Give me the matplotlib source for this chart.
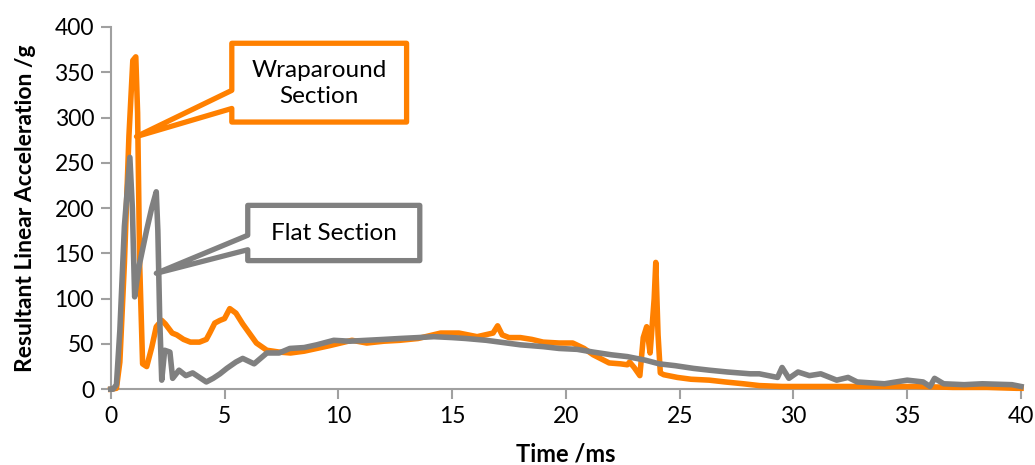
import matplotlib
matplotlib.use('Agg')
import matplotlib.pyplot as plt
from matplotlib.patches import Polygon

plt.rcParams['font.family'] = ['Lato', 'DejaVu Sans']

# Wraparound section (orange)
t_wrap = [0, 0.25, 0.4, 0.6, 0.8, 0.97, 1.1, 1.18, 1.27, 1.4, 1.58, 1.8, 2.0, 2.24, 2.4, 2.7, 2.9, 3.2,
          3.5, 3.9, 4.2, 4.35, 4.57, 4.8, 5.0, 5.23, 5.5, 5.8, 6.0, 6.4, 6.86, 7.4, 7.9, 8.5, 9.05, 9.6,
          10.1, 10.6, 11.25, 12.0, 12.7, 13.5, 14.5, 15.3, 16.1, 16.8, 17.0, 17.2, 17.5, 18.0, 18.5, 19.0,
          19.7, 20.3, 20.8, 21.2, 21.9, 22.4, 22.7, 22.8, 23.0, 23.25, 23.4, 23.55, 23.7, 23.8, 23.88,
          23.95, 24.05, 24.15, 24.3, 24.9, 25.5, 26.3, 27.0, 27.8, 28.5, 29.5, 30.5, 32, 33.5, 35.4, 37,
          38.5, 39.8, 40]
v_wrap = [0, 1, 30, 139, 280, 363, 367, 305, 139, 28, 25, 46, 69, 76, 72, 62, 60, 55,
          52, 52, 55, 62, 73, 76, 78, 89, 84, 72, 65, 51, 43, 41, 40, 42, 45, 48,
          51, 54, 51, 53, 54, 56, 62, 62, 58, 62, 70, 60, 57, 57, 55, 52,
          51, 51, 45, 38, 29, 28, 27, 30, 24, 15, 57, 69, 40, 73, 100,
          140, 60, 18, 16, 13, 11, 10, 8, 6, 4, 3, 3, 3, 3, 3, 2,
          2, 1, 1]

# Flat section (gray)
t_flat = [0, 0.1, 0.25, 0.4, 0.6, 0.84, 0.95, 1.05, 1.15, 1.27, 1.58, 1.8, 2.0, 2.07, 2.15, 2.24, 2.37,
          2.6, 2.72, 3.0, 3.3, 3.6, 3.9, 4.2, 4.5, 4.8, 5.1, 5.5, 5.8, 6.3, 6.86, 7.4, 7.87, 8.5, 9.05,
          9.8, 10.5, 11.25, 12, 12.7, 13.5, 14.2, 15, 15.6, 16.5, 17.1, 18, 19, 19.7, 20.5, 21.2, 22,
          22.7, 23.5, 24.1, 24.8, 25.6, 26.3, 27.1, 28.1, 28.5, 29.3, 29.5, 29.8, 30.2, 30.7, 31.2, 31.9,
          32.4, 32.8, 34, 35, 35.7, 36, 36.2, 36.6, 37.5, 38.3, 39.6, 40]
v_flat = [0, 0, 5, 65, 180, 256, 200, 102, 120, 139, 176, 200, 218, 175, 80, 10, 43,
          41, 12, 21, 15, 18, 13, 8, 12, 17, 23, 30, 34, 28, 40, 40, 45, 46, 49,
          54, 53, 54, 55, 56, 57, 58, 57, 56, 54, 52, 49, 47, 45, 44, 41, 38,
          36, 32, 28, 26, 23, 21, 19, 17, 17, 13, 24, 12, 19, 15, 17, 10,
          13, 8, 6, 10, 8, 3, 12, 6, 5, 6, 5, 3]

orange = '#FF8000'
grey = '#808080'
axcol = '#A0A0A0'

fig = plt.figure(figsize=(10.35, 4.65), dpi=100)
ax = fig.add_axes([0.107, 0.163, 0.8795, 0.779])

ax.plot(t_wrap, v_wrap, color=orange, lw=4, solid_joinstyle='round', clip_on=False, zorder=3)
ax.plot(t_flat, v_flat, color=grey, lw=4, solid_joinstyle='round', clip_on=False, zorder=4)

ax.set_xlim(0, 40)
ax.set_ylim(0, 400)
ax.set_xticks(range(0, 41, 5))
ax.set_yticks(range(0, 401, 50))

for s in ['top', 'right']:
    ax.spines[s].set_visible(False)
for s in ['left', 'bottom']:
    ax.spines[s].set_color(axcol)
    ax.spines[s].set_linewidth(1.5)
ax.tick_params(axis='both', color=axcol, width=1.5, length=7, labelsize=16.5, pad=5)

ax.set_xlabel('Time /ms', fontsize=17, fontweight='bold', labelpad=11)
ax.set_ylabel('Resultant Linear Acceleration /g', fontsize=16.5, fontweight='bold', labelpad=13)

# callouts
wrap_box = [(1.13, 279), (5.32, 310), (5.32, 295), (13.0, 295), (13.0, 382), (5.32, 382), (5.32, 330)]
flat_box = [(2.0, 128), (6.02, 154), (6.02, 142), (13.58, 142), (13.58, 203), (6.02, 203), (6.02, 170)]
ax.add_patch(Polygon(wrap_box, closed=True, facecolor='white', edgecolor=orange, lw=3.8,
                     joinstyle='round', zorder=6, clip_on=False))
ax.add_patch(Polygon(flat_box, closed=True, facecolor='white', edgecolor=grey, lw=3.8,
                     joinstyle='round', zorder=6, clip_on=False))
ax.text(9.16, 338, 'Wraparound\nSection', ha='center', va='center', fontsize=17.5,
        linespacing=1.3, zorder=7)
ax.text(9.8, 172, 'Flat Section', ha='center', va='center', fontsize=17.5, zorder=7)

fig.savefig('out.png', dpi=100)
